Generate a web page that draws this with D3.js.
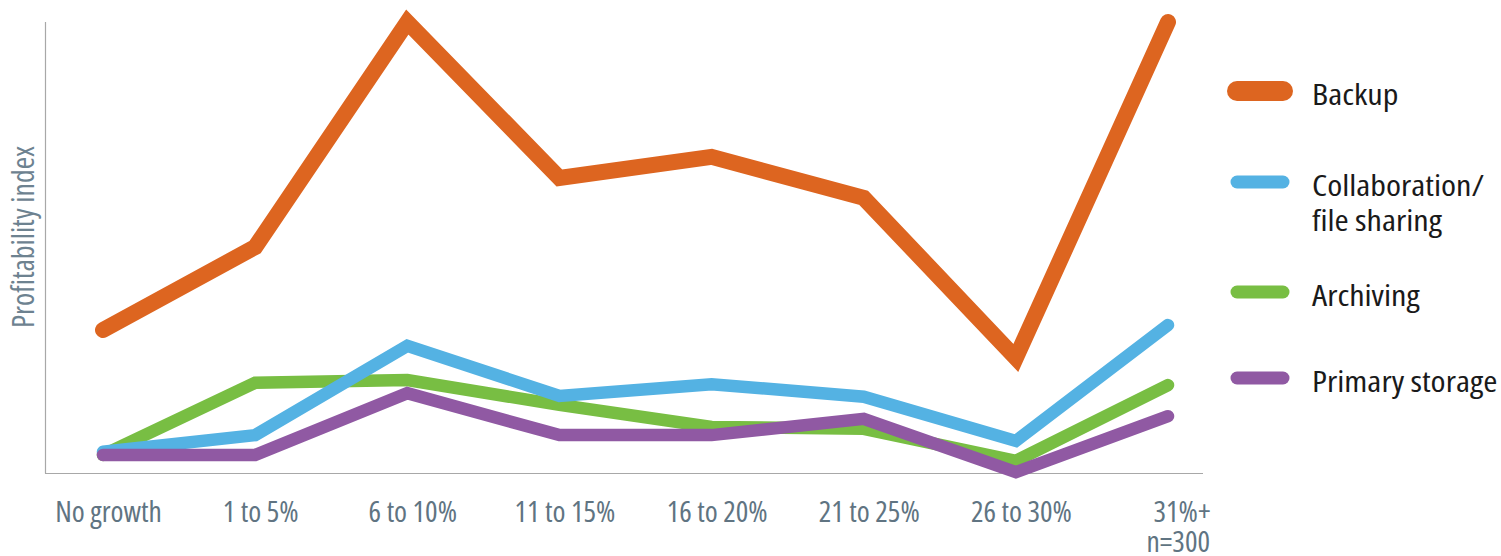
<!DOCTYPE html>
<html>
<head>
<meta charset="utf-8">
<script src="https://cdn.jsdelivr.net/npm/d3@7"></script>
<style>
	body { margin: 0; background: #fff; }
	svg text { font-family: 'Open Sans', sans-serif; font-stretch: 75%; }
</style>
</head>
<body>
<svg width="1501" height="556"></svg>
<script>
// categories along the x axis
var categories = ['No growth', '1 to 5%', '6 to 10%', '11 to 15%', '16 to 20%', '21 to 25%', '26 to 30%', '31%+'];

// profitability index (0..100 scale)
var backup        = [31.7, 50.1, 100, 65.4, 70.1, 61.0, 25.5, 100];
var collaboration = [4.7, 8.4, 28.2, 17.1, 19.7, 16.9, 7.1, 32.8];
var archiving     = [4.0, 20.0, 20.6, 15.1, 10.2, 9.8, 2.7, 19.5];
var primary       = [4.0, 4.0, 17.7, 8.4, 8.4, 12.0, 0.2, 12.6];

var seriesNames  = ['Backup', 'Collaboration/|file sharing', 'Archiving', 'Primary storage'];
var seriesValues = [backup, collaboration, archiving, primary];
var seriesColors = ['#dd6520', '#54b2e3', '#78be43', '#9059a3'];
var drawOrder = [0, 2, 1, 3];

var svg = d3.select('svg');

var x = d3.scalePoint().domain(categories).range([103, 1168]);
var y = d3.scaleLinear().domain([0, 100]).range([473, 22]);

//axes
svg.append('line')
	.attr('x1', 45.5).attr('x2', 45.5)
	.attr('y1', 22).attr('y2', 473.5)
	.attr('stroke', '#a8a8a8').attr('stroke-width', 1.2);
svg.append('line')
	.attr('x1', 45).attr('x2', 1203)
	.attr('y1', 473.5).attr('y2', 473.5)
	.attr('stroke', '#a8a8a8').attr('stroke-width', 1.2);

var xAxis = svg.append('g')
	.attr('transform', 'translate(0,473)')
	.call(d3.axisBottom(x).tickSize(0).tickPadding(0));
xAxis.select('.domain').remove();
xAxis.selectAll('text')
	.attr('font-size', 29.5)
	.attr('fill', '#607482')
	.attr('y', 49)
	.attr('dy', 0)
	.attr('dx', 5)
	.style('font-family', null);
xAxis.selectAll('.tick').filter(function(d){ return d === '31%+'; })
	.select('text')
	.attr('text-anchor', 'end')
	.attr('dx', 42);

svg.append('text')
	.attr('x', x('31%+') + 42)
	.attr('y', 552)
	.attr('text-anchor', 'end')
	.attr('font-size', 29.5)
	.attr('fill', '#607482')
	.text('n=300');

svg.append('text')
	.attr('transform', 'translate(34,237) rotate(-90)')
	.attr('text-anchor', 'middle')
	.attr('font-size', 30)
	.attr('fill', '#6d8290')
	.text('Profitability index');

//lines
var line = d3.line()
	.x(function(d, i){ return x(categories[i]); })
	.y(function(d){ return y(d); });

drawOrder.forEach(function(k){
	svg.append('path')
		.datum(seriesValues[k])
		.attr('d', line)
		.attr('fill', 'none')
		.attr('stroke', seriesColors[k])
		.attr('stroke-width', k === 0 ? 16 : 12.5)
		.attr('stroke-linejoin', 'miter')
		.attr('stroke-miterlimit', 10)
		.attr('stroke-linecap', 'round');
});

//legend
var legendY = [91, 182, 292, 378];
var legend = svg.append('g').attr('class', 'legend');
seriesNames.forEach(function(name, i){
	var g = legend.append('g').attr('transform', 'translate(0,' + legendY[i] + ')');
	g.append('line')
		.attr('x1', 1237).attr('x2', 1283)
		.attr('stroke', seriesColors[i])
		.attr('stroke-width', i === 0 ? 20 : 13)
		.attr('stroke-linecap', 'round');
	var parts = name.split('|');
	parts.forEach(function(p, j){
		// widen the condensed face a bit so the legend spans as in the picture
		g.append('text')
			.attr('transform', 'translate(1312,' + (14 + j * 35) + ') scale(1.18,1)')
			.attr('font-size', 29)
			.attr('fill', '#1a1a1a')
			.text(p);
	});
});
</script>
</body>
</html>
